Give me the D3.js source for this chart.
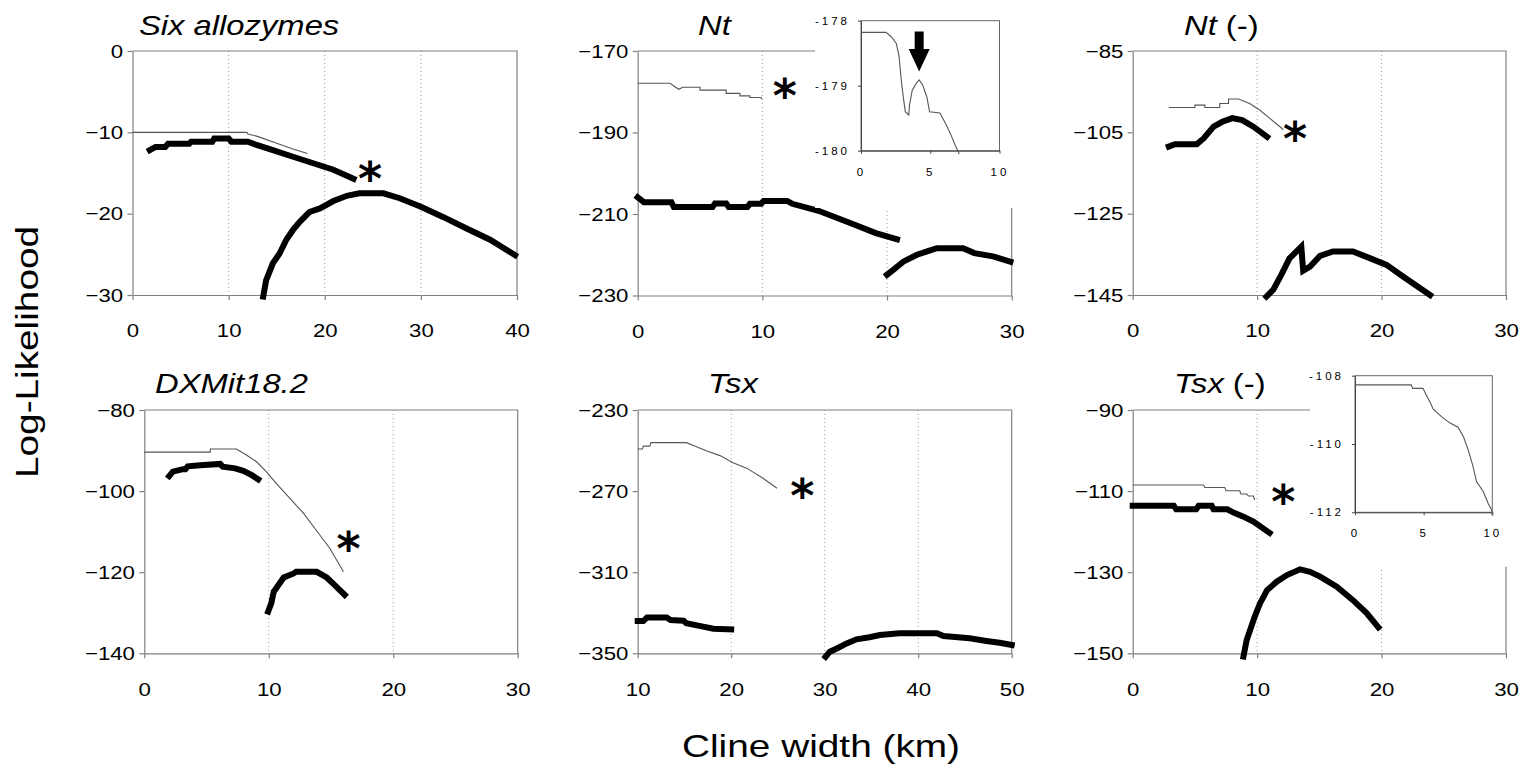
<!DOCTYPE html>
<html>
<head>
<meta charset="utf-8">
<script src="https://cdn.jsdelivr.net/npm/d3@7"></script>
<style>
  body { margin: 0; background: #fff; }
  svg text { font-family: "Liberation Sans", Arial, sans-serif; fill: #000; }
</style>
</head>
<body>
<svg id="chart" width="1526" height="767"></svg>
<script>
// ---- data: [cline width (km), log-likelihood] ----

// Six allozymes
var allozThin = [[0,-10],[11.9,-10],[12.0,-10.2],[13,-10.5],[15,-11.35],[16.7,-12.05],[18.2,-12.6]];
var allozThickA = [[1.8,-12.2],[2.4,-11.8],[3.4,-11.8],[3.7,-11.4],[5.9,-11.4],[6.1,-11.15],[8.3,-11.15],[8.5,-10.75],
  [10.0,-10.75],[10.3,-11.15],[12.0,-11.15],[12.9,-11.55],[14.6,-12.2],[16.7,-13.0],[18.8,-13.8],[20.9,-14.6],[23.0,-15.7]];
var allozThickB = [[13.6,-30.2],[13.9,-28.2],[14.6,-26.1],[15.3,-24.9],[16.0,-23.2],[16.7,-22.0],[17.4,-21.0],[18.4,-19.8],
  [19.5,-19.35],[20.9,-18.45],[22.3,-17.8],[23.6,-17.5],[26.1,-17.5],[27.8,-18.1],[30.0,-19.15],[32.3,-20.4],
  [34.7,-21.8],[37.2,-23.2],[39.8,-25.1]];
var allozStar = [24.7, -15];

// Nt
var ntThin = [[0,-177.9],[2.6,-177.9],[2.9,-178.6],[3.3,-179.4],[3.6,-178.9],[5.0,-178.9],[5.0,-179.6],[7.1,-179.6],
  [7.1,-180.4],[8.2,-180.4],[8.2,-181.0],[9.0,-181.0],[9.0,-181.4],[9.9,-181.4],[9.95,-181.8]];
var ntThickA = [[0,-205.9],[0.5,-207.1],[2.7,-207.1],[2.9,-208.3],[6.0,-208.3],[6.2,-207.4],[7.1,-207.4],[7.3,-208.3],
  [8.8,-208.3],[9.0,-207.5],[9.9,-207.5],[10.1,-206.8],[12.0,-206.8],[12.4,-207.5],[14.5,-209.2],[17.2,-212.4],
  [19.1,-214.7],[20.8,-216.2]];
var ntThickB = [[20.0,-224.9],[20.5,-223.7],[21.3,-221.7],[22.4,-220.0],[23.4,-219.0],[24.0,-218.4],[26.1,-218.4],
  [27.0,-219.6],[28.5,-220.4],[29.9,-221.7]];
var ntStar = [11.8, -179.6];
var ntInset = [[0,-178.18],[1.8,-178.18],[2.2,-178.25],[2.55,-178.35],[2.75,-178.55],[2.9,-178.9],[3.05,-179.17],
  [3.2,-179.4],[3.45,-179.45],[3.5,-179.3],[3.7,-179.07],[4.0,-178.96],[4.2,-178.91],[4.45,-178.99],[4.75,-179.17],
  [4.95,-179.4],[5.7,-179.42],[6.15,-179.6],[6.5,-179.76],[6.85,-179.94],[7.1,-180.05]];
var ntArrowTip = [4.2, -178.78];

// Nt (-)
var ntmThin = [[2.9,-98.9],[5.0,-98.9],[5.0,-98.3],[5.8,-98.3],[5.8,-98.9],[7.0,-98.9],[7.0,-97.9],[7.7,-97.9],
  [7.7,-96.8],[8.5,-96.8],[9.4,-97.9],[10.2,-99.5],[11.0,-101.5],[12.1,-104.3]];
var ntmThickA = [[2.9,-108.5],[3.4,-107.9],[5.15,-107.9],[5.7,-106.5],[6.5,-103.6],[7.2,-102.4],[8.0,-101.5],
  [8.8,-102.0],[9.7,-103.6],[10.8,-106.1]];
var ntmThickB = [[10.75,-145.4],[11.3,-143.7],[11.95,-140.0],[12.6,-136.0],[13.55,-133.1],[13.7,-139.0],[14.25,-138.0],
  [15.05,-135.4],[16.1,-134.3],[17.7,-134.3],[19.1,-136.0],[20.4,-137.6],[21.75,-140.5],[23.9,-145.0]];
var ntmStar = [13.05, -105.2];

// DXMit18.2
var dxThin = [[0,-90.4],[5.3,-90.4],[5.3,-89.6],[7.4,-89.6],[8.2,-91.1],[9.0,-92.7],[9.8,-95.2],[10.6,-98.1],
  [11.7,-101.8],[12.8,-105.5],[13.8,-109.6],[14.9,-114.1],[16.0,-119.9]];
var dxThickA = [[2.0,-96.3],[2.3,-95.2],[3.1,-94.6],[3.3,-94.6],[3.5,-93.9],[4.5,-93.6],[6.1,-93.3],[6.3,-94.0],
  [7.3,-94.4],[7.95,-95.0],[8.6,-96.0],[9.15,-97.1]];
var dxThickB = [[9.95,-129.7],[10.2,-127.7],[10.4,-124.8],[11.2,-121.3],[12.0,-120.3],[12.2,-119.9],[13.85,-119.9],
  [14.65,-121.3],[15.3,-123.2],[16.1,-125.6]];
var dxStar = [16.4, -112.8];

// Tsx
var tsxThin = [[10,-249.2],[10.5,-249.2],[10.6,-247.8],[11.3,-247.8],[11.4,-246.1],[15.2,-246.1],[16.1,-247.8],
  [17.4,-250.2],[18.8,-252.5],[20.2,-256.0],[21.7,-258.8],[23.4,-263.7],[24.9,-268.6]];
var tsxThickA = [[10,-334.1],[10.6,-334.1],[11.0,-332.3],[13.1,-332.3],[13.5,-333.6],[14.9,-333.9],[15.2,-335.2],
  [16.6,-336.5],[18.1,-337.9],[20.0,-338.2]];
var tsxThickB = [[30.1,-351.7],[30.55,-349.2],[31.3,-347.6],[32.35,-345.1],[33.4,-343.1],[34.8,-342.1],[35.9,-341.0],
  [38.0,-340.1],[42.0,-340.1],[42.7,-341.5],[45.5,-342.6],[47.3,-343.9],[48.7,-344.8],[50.0,-345.9]];
var tsxStar = [27.6, -269.5];

// Tsx (-)
var tsxmThin = [[0,-108.5],[5.7,-108.5],[5.8,-109.1],[7.4,-109.1],[7.5,-109.9],[8.6,-109.9],[8.7,-110.7],
  [9.15,-110.7],[9.3,-111.2],[9.7,-111.2],[9.8,-112.2]];
var tsxmThickA = [[0,-113.6],[3.3,-113.6],[3.5,-114.5],[5.1,-114.5],[5.3,-113.6],[6.35,-113.6],[6.5,-114.5],
  [7.6,-114.5],[8.1,-115.3],[8.9,-116.3],[9.7,-117.5],[11.0,-120.3]];
var tsxmThickB = [[8.9,-150.8],[9.16,-146.7],[9.43,-144.3],[9.8,-141.0],[10.23,-137.7],[10.8,-134.4],[11.6,-132.3],
  [12.4,-130.7],[13.45,-129.3],[14.25,-129.9],[15.06,-131.1],[16.4,-133.6],[17.7,-136.9],[18.8,-140.1],[19.74,-143.6]];
var tsxmStar = [12.1, -111.2];
var tsxmInset = [[0,-108.27],[4.1,-108.27],[4.2,-108.37],[4.95,-108.37],[5.2,-108.57],[5.45,-108.76],[5.7,-108.98],
  [6.3,-109.2],[6.9,-109.38],[7.5,-109.51],[7.9,-109.79],[8.25,-110.18],[8.6,-110.66],[8.85,-111.1],[9.35,-111.4],
  [9.7,-111.74],[9.95,-111.93],[10.0,-112.1]];

// tick values
var xTicks40 = [0, 10, 20, 30, 40];
var xTicks30 = [0, 10, 20, 30];
var xTicks1050 = [10, 20, 30, 40, 50];
var yTicksAlloz = [0, -10, -20, -30];
var yTicksNt = [-170, -190, -210, -230];
var yTicksNtm = [-85, -105, -125, -145];
var yTicksDx = [-80, -100, -120, -140];
var yTicksTsx = [-230, -270, -310, -350];
var yTicksTsxm = [-90, -110, -130, -150];
var insetXTicks = [0, 5, 10];
var ntInsetYTicks = [-178, -179, -180];
var tsxmInsetYTicks = [-108, -110, -112];

// ---- layout ----
var svg = d3.select("#chart");
var stretch = 1.17;   // the original figure is a little wider than its fonts

var panels = [
  {title: [["Six allozymes", true]], tx: 139, ty: 35,
   left: 132.5, right: 517, top: 51, bottom: 295,
   xDomain: [0, 40], yDomain: [-30, 0], xTicks: xTicks40, yTicks: yTicksAlloz,
   thin: [allozThin], thick: [allozThickA, allozThickB], star: allozStar},
  {title: [["Nt", true]], tx: 698, ty: 35,
   left: 637.7, right: 1011.7, top: 51, bottom: 295.5,
   xDomain: [0, 30], yDomain: [-230, -170], xTicks: xTicks30, yTicks: yTicksNt,
   thin: [ntThin], thick: [ntThickA, ntThickB], star: ntStar,
   inset: {cover: [815, 0, 211, 208], left: 861, right: 999.5, top: 20.7, bottom: 150.7,
           yDomain: [-180, -178], yTicks: ntInsetYTicks, data: ntInset, arrow: ntArrowTip}},
  {title: [["Nt", true], [" (-)", false]], tx: 1184, ty: 35,
   left: 1132.7, right: 1506, top: 51, bottom: 295,
   xDomain: [0, 30], yDomain: [-145, -85], xTicks: xTicks30, yTicks: yTicksNtm,
   thin: [ntmThin], thick: [ntmThickA, ntmThickB], star: ntmStar},
  {title: [["DXMit18.2", true]], tx: 155, ty: 393,
   left: 144.3, right: 517.7, top: 410, bottom: 653.3,
   xDomain: [0, 30], yDomain: [-140, -80], xTicks: xTicks30, yTicks: yTicksDx,
   thin: [dxThin], thick: [dxThickA, dxThickB], star: dxStar},
  {title: [["Tsx", true]], tx: 708, ty: 393,
   left: 637.7, right: 1011.7, top: 410, bottom: 653.3,
   xDomain: [10, 50], yDomain: [-350, -230], xTicks: xTicks1050, yTicks: yTicksTsx,
   thin: [tsxThin], thick: [tsxThickA, tsxThickB], star: tsxStar},
  {title: [["Tsx", true], [" (-)", false]], tx: 1174, ty: 393,
   left: 1132.7, right: 1506, top: 410, bottom: 653.3,
   xDomain: [0, 30], yDomain: [-150, -90], xTicks: xTicks30, yTicks: yTicksTsxm,
   thin: [tsxmThin], thick: [tsxmThickA, tsxmThickB], star: tsxmStar,
   inset: {cover: [1310, 340, 216, 226.7], left: 1355, right: 1492.3, top: 375.7, bottom: 512.3,
           yDomain: [-112, -108], yTicks: tsxmInsetYTicks, data: tsxmInset}}
];

function styleAxis(ax, size) {
  ax.select(".domain").attr("stroke", "#808080").attr("stroke-width", 1.2);
  ax.selectAll(".tick line").attr("stroke", "#808080").attr("stroke-width", 1.2);
  ax.selectAll(".tick text").attr("fill", "#000").style("font-size", size + "px")
    .style("font-family", '"Liberation Sans", Arial, sans-serif');
}

function drawPanel(p) {
  var x = d3.scaleLinear().domain(p.xDomain).range([p.left, p.right]);
  var y = d3.scaleLinear().domain(p.yDomain).range([p.bottom, p.top]);
  var g = svg.append("g");

  // dotted vertical gridlines
  g.selectAll("line.grid")
    .data(p.xTicks.slice(1, -1))
    .enter().append("line")
    .attr("class", "grid")
    .attr("x1", d => x(d)).attr("x2", d => x(d))
    .attr("y1", p.top).attr("y2", p.bottom)
    .attr("stroke", "#9a9a9a").attr("stroke-width", 1)
    .attr("stroke-dasharray", "1,3");

  // top and right frame
  g.append("path")
    .attr("d", "M" + p.left + "," + p.top + "H" + p.right + "V" + p.bottom)
    .attr("fill", "none").attr("stroke", "#808080").attr("stroke-width", 1.2);

  var xAxis = g.append("g")
    .attr("transform", "translate(0," + p.bottom + ")")
    .call(d3.axisBottom(x).tickValues(p.xTicks).tickSize(5).tickSizeOuter(0).tickPadding(24));
  styleAxis(xAxis, 19);
  xAxis.selectAll(".tick text").attr("transform", "scale(" + stretch + ",1)");

  var yAxis = g.append("g")
    .attr("transform", "translate(" + p.left + ",0)")
    .call(d3.axisLeft(y).tickValues(p.yTicks).tickSize(5).tickSizeOuter(0).tickPadding(3));
  styleAxis(yAxis, 19);
  yAxis.selectAll(".tick text").attr("transform", "scale(" + stretch + ",1)");

  var line = d3.line().x(d => x(d[0])).y(d => y(d[1]));

  g.selectAll("path.thin")
    .data(p.thin)
    .enter().append("path")
    .attr("class", "thin")
    .attr("d", line)
    .attr("fill", "none").attr("stroke", "#555").attr("stroke-width", 1.1);

  g.selectAll("path.thick")
    .data(p.thick)
    .enter().append("path")
    .attr("class", "thick")
    .attr("d", line)
    .attr("fill", "none").attr("stroke", "#000").attr("stroke-width", 6)
    .attr("stroke-linejoin", "miter").attr("stroke-linecap", "square");

  // significance asterisk
  g.append("text")
    .attr("transform", "translate(" + x(p.star[0]) + "," + (y(p.star[1]) + 22) + ")")
    .attr("text-anchor", "middle")
    .style("font-family", '"DejaVu Sans", sans-serif')
    .style("font-weight", "bold")
    .style("font-size", "46px")
    .text("*");

  // panel title
  var t = svg.append("text")
    .attr("transform", "translate(" + p.tx + "," + p.ty + ") scale(" + stretch + ",1)")
    .style("font-size", "28px");
  p.title.forEach(function(part) {
    t.append("tspan").style("font-style", part[1] ? "italic" : "normal").text(part[0]);
  });

  if (p.inset) drawInset(p.inset);
}

function drawInset(q) {
  var g = svg.append("g");
  g.append("rect")
    .attr("x", q.cover[0]).attr("y", q.cover[1])
    .attr("width", q.cover[2]).attr("height", q.cover[3])
    .attr("fill", "#fff");

  var x = d3.scaleLinear().domain([0, 10]).range([q.left, q.right]);
  var y = d3.scaleLinear().domain(q.yDomain).range([q.bottom, q.top]);

  g.append("rect")
    .attr("x", q.left).attr("y", q.top)
    .attr("width", q.right - q.left).attr("height", q.bottom - q.top)
    .attr("fill", "none").attr("stroke", "#666").attr("stroke-width", 1);

  var xAxis = g.append("g")
    .attr("transform", "translate(0," + q.bottom + ")")
    .call(d3.axisBottom(x).tickValues(insetXTicks).tickSize(3).tickSizeOuter(0).tickPadding(14)
      .tickFormat(d => String(d)));
  var yAxis = g.append("g")
    .attr("transform", "translate(" + q.left + ",0)")
    .call(d3.axisLeft(y).tickValues(q.yTicks).tickSize(3).tickSizeOuter(0).tickPadding(8)
      .tickFormat(d => String(d)));
  [xAxis, yAxis].forEach(function(ax) {
    styleAxis(ax, 11.5);
    ax.select(".domain").attr("stroke", "#444").attr("stroke-width", 1);
    ax.selectAll(".tick line").attr("stroke", "#444").attr("stroke-width", 1);
    ax.selectAll(".tick text").style("letter-spacing", "3px");
  });

  g.append("path")
    .datum(q.data)
    .attr("d", d3.line().x(d => x(d[0])).y(d => y(d[1])))
    .attr("fill", "none").attr("stroke", "#555").attr("stroke-width", 1.1);

  if (q.arrow) {
    var ax0 = x(q.arrow[0]), ay0 = y(q.arrow[1]);
    g.append("path")
      .attr("d", "M" + ax0 + "," + ay0 +
        "l-10.5,-22.5 h6 v-17.5 h9 v17.5 h6 z")
      .attr("fill", "#000");
  }
}

panels.forEach(drawPanel);

// axis titles
svg.append("text")
  .attr("x", 821).attr("y", 757)
  .attr("text-anchor", "middle")
  .attr("textLength", 278).attr("lengthAdjust", "spacingAndGlyphs")
  .style("font-size", "32px")
  .text("Cline width (km)");

svg.append("text")
  .attr("transform", "translate(38,352) rotate(-90)")
  .attr("text-anchor", "middle")
  .attr("textLength", 252).attr("lengthAdjust", "spacingAndGlyphs")
  .style("font-size", "32px")
  .text("Log-Likelihood");
</script>
</body>
</html>
